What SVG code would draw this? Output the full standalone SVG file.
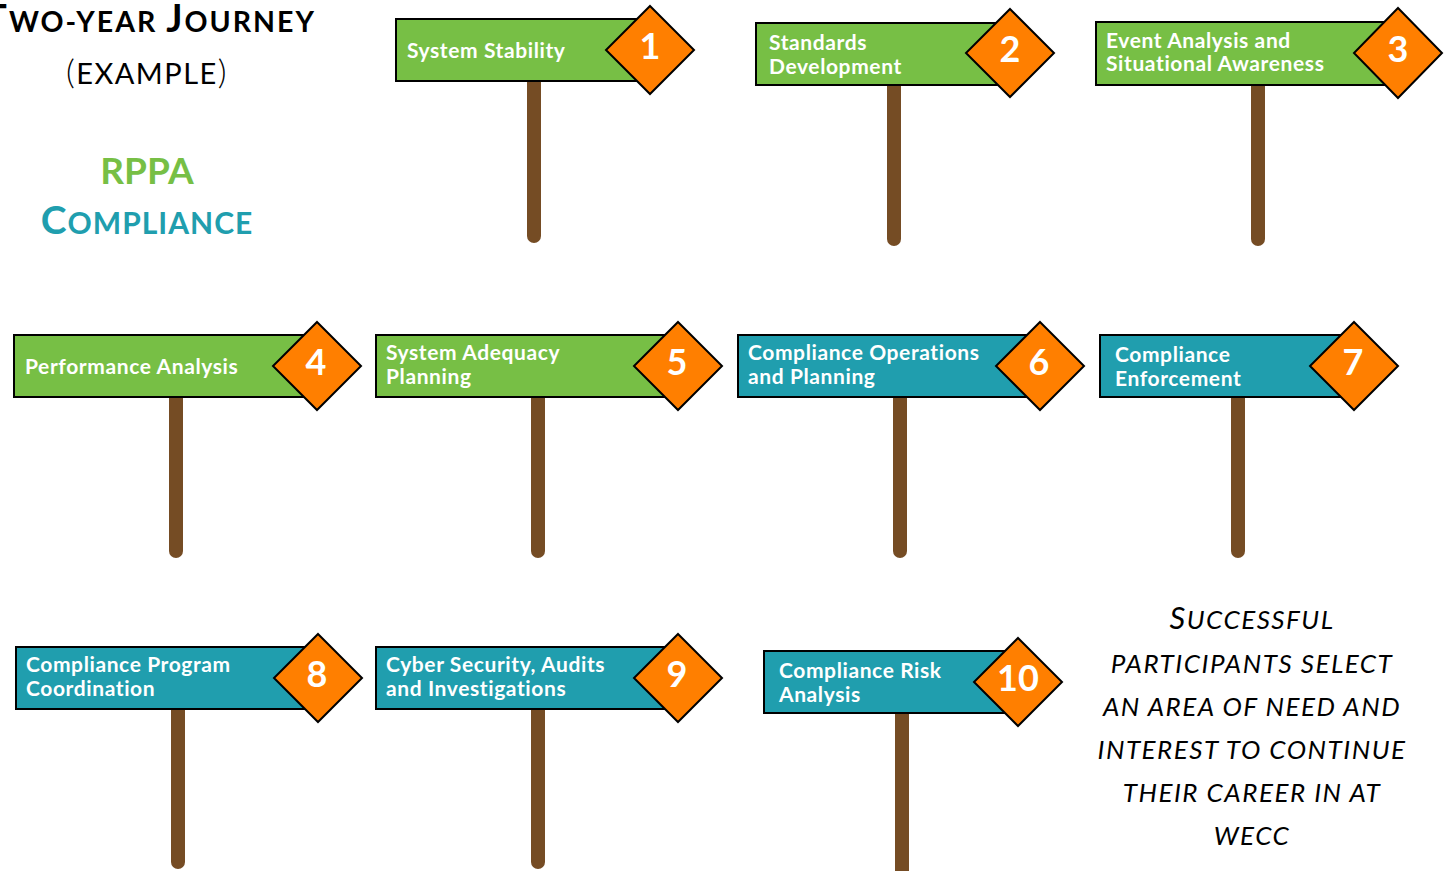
<svg xmlns="http://www.w3.org/2000/svg" width="1447" height="871" viewBox="0 0 1447 871">
<style>
.g{fill:#77BF45;stroke:#000;stroke-width:2}
.t{fill:#209EAE;stroke:#000;stroke-width:2}
.d{fill:#FF7F00;stroke:#000;stroke-width:2}
.p{stroke:#754C24;stroke-width:14;stroke-linecap:round;fill:none}
.l{font-family:Lato,"Open Sans",sans-serif;font-weight:bold;font-size:21px;letter-spacing:0.6px;fill:#fff}
.n{font-family:Lato,"Open Sans",sans-serif;font-weight:bold;font-size:36px;fill:#fff;text-anchor:middle}
.h{font-family:Lato,"Open Sans",sans-serif;text-anchor:middle}
.s{font-family:Lato,"Open Sans",sans-serif;font-style:italic;font-size:26px;letter-spacing:1.5px;text-anchor:middle;fill:#000}
</style>
<rect width="1447" height="871" fill="#fff"/>
<g id="title">
<text class="h" x="150" y="32" font-weight="bold" fill="#000" letter-spacing="2"><tspan font-size="38">T</tspan><tspan font-size="28.5">WO-YEAR </tspan><tspan font-size="38">J</tspan><tspan font-size="28.5">OURNEY</tspan></text>
<text class="h" x="147" y="84" fill="#000" letter-spacing="1.5"><tspan font-size="34" font-weight="300">(</tspan><tspan font-size="29">EXAMPLE</tspan><tspan font-size="34" font-weight="300">)</tspan></text>
<text class="h" x="147" y="184" font-weight="bold" font-size="37" fill="#77BF45">RPPA</text>
<text class="h" x="147" y="234" font-weight="bold" fill="#209EAE" letter-spacing="1"><tspan font-size="39">C</tspan><tspan font-size="30">OMPLIANCE</tspan></text>
</g>
<g id="connectors">
<line class="p" x1="534" y1="82" x2="534" y2="236"/>
<line class="p" x1="894" y1="86" x2="894" y2="239"/>
<line class="p" x1="1258" y1="86" x2="1258" y2="239"/>
<line class="p" x1="176" y1="398" x2="176" y2="551"/>
<line class="p" x1="538" y1="398" x2="538" y2="551"/>
<line class="p" x1="900" y1="398" x2="900" y2="551"/>
<line class="p" x1="1238" y1="398" x2="1238" y2="551"/>
<line class="p" x1="178" y1="710" x2="178" y2="862"/>
<line class="p" x1="538" y1="710" x2="538" y2="862"/>
<line class="p" x1="902" y1="714" x2="902" y2="880"/>
</g>
<g id="sign1">
<rect class="g" x="396" y="19" width="254" height="62"/>
<path class="d" d="M650 6 L694 50 L650 94 L606 50 Z"/>
<text class="l" x="407" y="58">System Stability</text>
<text class="n" x="650" y="59">1</text>
</g>
<g id="sign2">
<rect class="g" x="756" y="23" width="254" height="62"/>
<path class="d" d="M1010 9 L1054 53 L1010 97 L966 53 Z"/>
<text class="l" x="769" y="50">Standards</text>
<text class="l" x="769" y="74">Development</text>
<text class="n" x="1010" y="62">2</text>
</g>
<g id="sign3">
<rect class="g" x="1096" y="22" width="302" height="63"/>
<path class="d" d="M1398 8 L1442 53 L1398 98 L1354 53 Z"/>
<text class="l" x="1106" y="48">Event Analysis and</text>
<text class="l" x="1106" y="71">Situational Awareness</text>
<text class="n" x="1398" y="62">3</text>
</g>
<g id="sign4">
<rect class="g" x="14" y="335" width="303" height="62"/>
<path class="d" d="M317 322 L361 366 L317 410 L273 366 Z"/>
<text class="l" x="25" y="374">Performance Analysis</text>
<text class="n" x="316" y="375">4</text>
</g>
<g id="sign5">
<rect class="g" x="376" y="335" width="302" height="62"/>
<path class="d" d="M678 322 L722 366 L678 410 L634 366 Z"/>
<text class="l" x="386" y="360">System Adequacy</text>
<text class="l" x="386" y="384">Planning</text>
<text class="n" x="677" y="375">5</text>
</g>
<g id="sign6">
<rect class="t" x="738" y="335" width="302" height="62"/>
<path class="d" d="M1040 322 L1084 366 L1040 410 L996 366 Z"/>
<text class="l" x="748" y="360">Compliance Operations</text>
<text class="l" x="748" y="384">and Planning</text>
<text class="n" x="1039" y="375">6</text>
</g>
<g id="sign7">
<rect class="t" x="1100" y="335" width="254" height="62"/>
<path class="d" d="M1354 322 L1398 366 L1354 410 L1310 366 Z"/>
<text class="l" x="1115" y="362">Compliance</text>
<text class="l" x="1115" y="386">Enforcement</text>
<text class="n" x="1353" y="375">7</text>
</g>
<g id="sign8">
<rect class="t" x="16" y="647" width="302" height="62"/>
<path class="d" d="M318 634 L362 678 L318 722 L274 678 Z"/>
<text class="l" x="26" y="672">Compliance Program</text>
<text class="l" x="26" y="696">Coordination</text>
<text class="n" x="317" y="687">8</text>
</g>
<g id="sign9">
<rect class="t" x="376" y="647" width="302" height="62"/>
<path class="d" d="M678 634 L722 678 L678 722 L634 678 Z"/>
<text class="l" x="386" y="672">Cyber Security, Audits</text>
<text class="l" x="386" y="696">and Investigations</text>
<text class="n" x="677" y="687">9</text>
</g>
<g id="sign10">
<rect class="t" x="764" y="651" width="254" height="62"/>
<path class="d" d="M1018 638 L1062 682 L1018 726 L974 682 Z"/>
<text class="l" x="779" y="678">Compliance Risk</text>
<text class="l" x="779" y="702">Analysis</text>
<text class="n" x="1018" y="691">10</text>
</g>
<g id="note">
<text class="s" x="1252" y="629"><tspan font-size="31">S</tspan>UCCESSFUL</text>
<text class="s" x="1252" y="673">PARTICIPANTS SELECT</text>
<text class="s" x="1252" y="716">AN AREA OF NEED AND</text>
<text class="s" x="1252" y="759">INTEREST TO CONTINUE</text>
<text class="s" x="1252" y="802">THEIR CAREER IN AT</text>
<text class="s" x="1252" y="845">WECC</text>
</g>
</svg>
